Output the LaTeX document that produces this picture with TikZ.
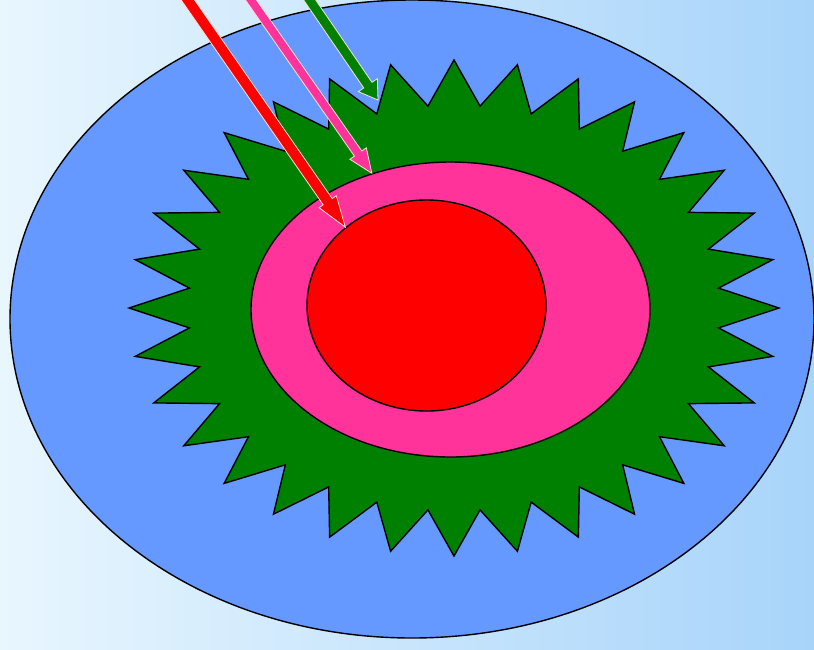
\documentclass[tikz,border=0pt]{standalone}
\usetikzlibrary{calc,shapes.geometric}
\definecolor{bgleft}{HTML}{E8F6FE}
\definecolor{bgright}{HTML}{A8D4FA}
\definecolor{sky}{HTML}{6699FF}
\definecolor{leaf}{HTML}{008000}
\definecolor{rose}{HTML}{FF3399}
\definecolor{core}{HTML}{FF0000}
\definecolor{rim}{HTML}{F4E4D4}
\tikzset{
  blob/.style={ellipse,draw=black,line width=1.4pt,inner sep=0pt},
  burst/.style={draw=black,line width=1.4pt,fill=leaf,line join=miter},
  arredge/.style={draw=rim,line width=0.8pt,line join=miter},
}
% colour, from, to, shaft half width, head half width, head length
\newcommand{\blockarrow}[6]{%
  \path (#3) coordinate (ba-tip) ($(#3)!#6!(#2)$) coordinate (ba-base);
  \draw[arredge,fill=#1] ($(#2)!#4!90:(ba-tip)$) -- ($(ba-base)!#4!90:(ba-tip)$)
    -- ($(ba-base)!#5!90:(ba-tip)$) -- (ba-tip) -- ($(ba-base)!#5!-90:(ba-tip)$)
    -- ($(ba-base)!#4!-90:(ba-tip)$) -- ($(#2)!#4!-90:(ba-tip)$) -- cycle;
}

\begin{document}
\begin{tikzpicture}[x=1pt,y=-1pt]
  \useasboundingbox (0,0) rectangle (814,649);
  \clip (0,0) rectangle (814,649);
  \fill[left color=bgleft,right color=bgright] (0,0) rectangle (814,649);
  \node[blob,fill=sky,minimum width=804pt,minimum height=638pt] (field) at (412,319) {};
  \draw[burst,shift={(454,308)}] (0:325 and 248)
    \foreach \k [evaluate=\k as \r using {isodd(\k) ? 0.818 : 1}] in {1,...,63} {
      -- ({\k*5.625}:{325*\r} and {248*\r}) } -- cycle;
  \node[blob,fill=rose,minimum width=399pt,minimum height=295pt] (rosering) at (450.5,309.5) {};
  \node[blob,fill=core,minimum width=239pt,minimum height=211pt] (redcore) at (426.5,305.5) {};
  \coordinate (redfrom) at (174,-20);
  \coordinate (rosefrom) at (237,-20);
  \coordinate (leaffrom) at (296,-20);
  \coordinate (notch) at (378,100);
  \blockarrow{core}{redfrom}{redcore.136.8}{5.5pt}{10.5pt}{31pt}
  \blockarrow{rose}{rosefrom}{rosering.120.2}{4.5pt}{10pt}{24pt}
  \blockarrow{leaf}{leaffrom}{notch}{5pt}{11.5pt}{18pt}
\end{tikzpicture}
\end{document}
